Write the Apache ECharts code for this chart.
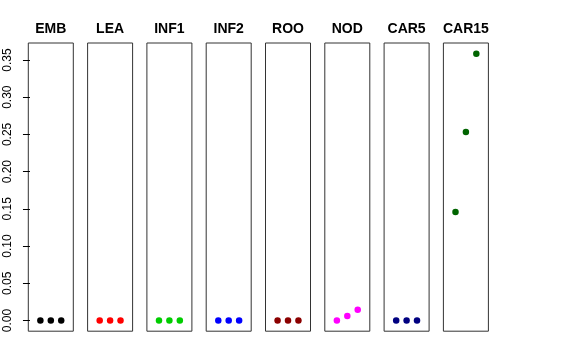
<!DOCTYPE html>
<html><head><meta charset="utf-8">
<script src="https://cdn.jsdelivr.net/npm/echarts@6/dist/echarts.min.js"></script>
<style>html,body{margin:0;padding:0;background:#fff}#c{width:576px;height:360px}</style>
</head><body><div id="c"></div>
<script>
const categories = ['EMB','LEA','INF1','INF2','ROO','NOD','CAR5','CAR15'];
const xPositions = [1, 2, 3];
const EMB = [0, 0, 0];
const LEA = [0, 0, 0];
const INF1 = [0, 0, 0];
const INF2 = [0, 0, 0];
const ROO = [0, 0, 0];
const NOD = [0, 0.006, 0.0146];
const CAR5 = [0, 0, 0];
const CAR15 = [0.1458, 0.2533, 0.3585];
const seriesValues = [EMB, LEA, INF1, INF2, ROO, NOD, CAR5, CAR15];
const colors = ['#000000','#FF0000','#00CD00','#0000FF','#8B0000','#FF00FF','#000080','#006400'];
const yTicks = [0, 0.05, 0.10, 0.15, 0.20, 0.25, 0.30, 0.35];

const yMin = -0.01434, yMax = 0.3728;
const xMin = -0.16, xMax = 4.16;
const panelLeft0 = 28.3, panelPitch = 59.3, boxW = 45, panelTop = 43, boxH = 288.2;

const grids = [], xAxes = [], yAxes = [], series = [], texts = [];
categories.forEach((name, i) => {
  const pl = panelLeft0 + panelPitch * i;
  grids.push({left: pl, top: panelTop, width: boxW, height: boxH, show: true,
    borderColor: '#333', borderWidth: 1, backgroundColor: 'transparent', containLabel: false});
  xAxes.push({gridIndex: i, type: 'value', min: xMin, max: xMax, show: false});
  yAxes.push({gridIndex: i, type: 'value', min: yMin, max: yMax, show: i === 0,
    axisLine: {show: false},
    splitLine: {show: false},
    axisTick: {show: i === 0, length: 7, lineStyle: {color: '#000', width: 1}, customValues: yTicks},
    axisLabel: {show: i === 0, rotate: 90, margin: 15, color: '#000', fontSize: 12,
      fontFamily: 'Liberation Sans, Arial, sans-serif', customValues: yTicks,
      formatter: v => Number(v).toFixed(2)}
  });
  series.push({type: 'scatter', xAxisIndex: i, yAxisIndex: i, symbol: 'circle', symbolSize: 6.5,
    itemStyle: {color: colors[i], opacity: 1}, silent: true, animation: false,
    data: xPositions.map((x, k) => [x, seriesValues[i][k]])});
  texts.push({type: 'text', x: pl + boxW / 2, y: 29.5,
    style: {text: name, align: 'center', verticalAlign: 'middle', fill: '#000',
      font: 'bold 14px "Liberation Sans", Arial, sans-serif'}});
});

const chart = echarts.init(document.getElementById('c'), null, {renderer: 'canvas'});
chart.setOption({animation: false, backgroundColor: '#fff', graphic: texts, grid: grids, xAxis: xAxes, yAxis: yAxes, series: series});
</script></body></html>
